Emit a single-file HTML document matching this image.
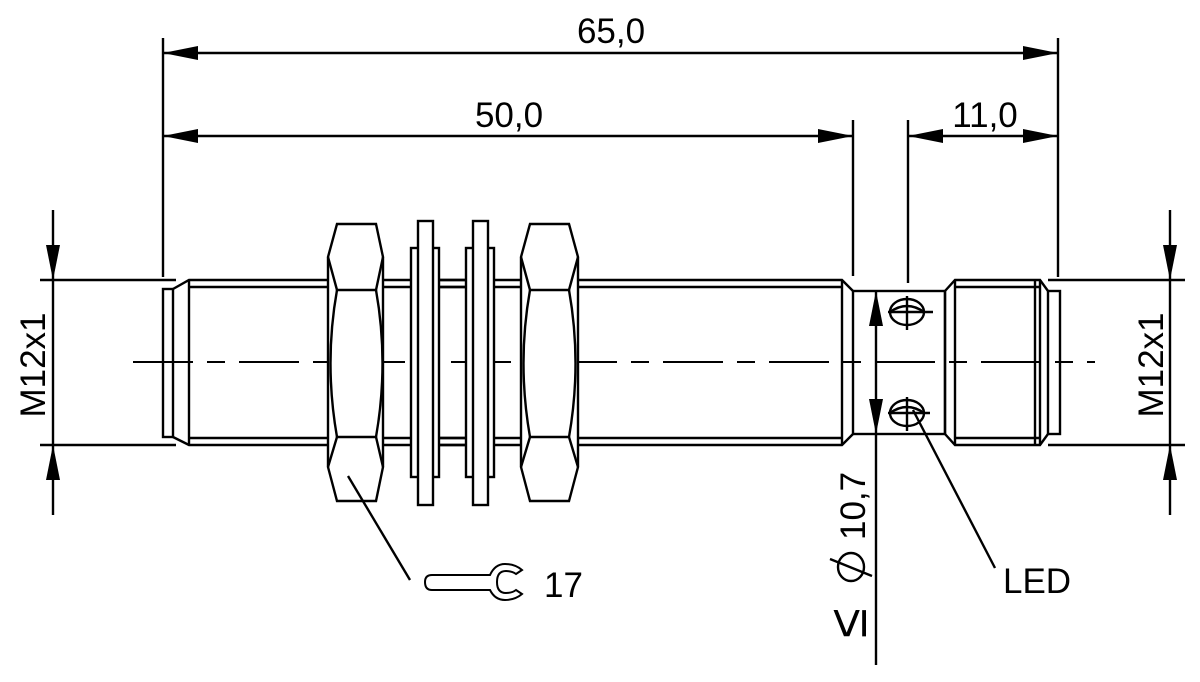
<!DOCTYPE html>
<html><head><meta charset="utf-8"><style>
html,body{margin:0;padding:0;background:#fff;}
svg{display:block;}
text{font-family:"Liberation Sans",Arial,sans-serif;fill:#000;}
</style></head><body>
<svg width="1200" height="682" viewBox="0 0 1200 682" xmlns="http://www.w3.org/2000/svg">
<g stroke="#000" stroke-width="2.4" fill="none" stroke-linejoin="miter">
<line x1="163" y1="38" x2="163" y2="277"/>
<line x1="1058" y1="38" x2="1058" y2="277"/>
<line x1="853" y1="120" x2="853" y2="276"/>
<line x1="908" y1="120" x2="908" y2="283"/>
<line x1="163" y1="53" x2="1058" y2="53"/>
<line x1="163" y1="136" x2="853" y2="136"/>
<line x1="908" y1="136" x2="1058" y2="136"/>
<line x1="40" y1="280" x2="176" y2="280"/>
<line x1="40" y1="445" x2="176" y2="445"/>
<line x1="53" y1="210" x2="53" y2="515"/>
<line x1="1048" y1="280" x2="1185" y2="280"/>
<line x1="1048" y1="445" x2="1185" y2="445"/>
<line x1="1170" y1="210" x2="1170" y2="515"/>
<line x1="133" y1="362" x2="1095" y2="362" stroke-width="2" stroke-dasharray="60 14 18 14"/>

<rect x="163" y="289" width="10" height="148"/>
<polyline points="173,289 189,280 328,280"/>
<polyline points="173,437 189,445 328,445"/>
<line x1="189" y1="287" x2="328" y2="287"/>
<line x1="189" y1="438" x2="328" y2="438"/>
<line x1="189" y1="280" x2="189" y2="445"/>
<line x1="383" y1="280" x2="521" y2="280"/>
<line x1="383" y1="287" x2="521" y2="287"/>
<line x1="383" y1="445" x2="521" y2="445"/>
<line x1="383" y1="438" x2="521" y2="438"/>
<polyline points="578,280 842,280 853,291"/>
<line x1="578" y1="287" x2="842" y2="287"/>
<polyline points="578,445 842,445 853,434"/>
<line x1="578" y1="438" x2="842" y2="438"/>
<line x1="842" y1="280" x2="842" y2="445"/>

<polygon points="337,224 376,224 383,257 383,467 376,501 337,501 328,467 328,257" fill="#fff"/>
<polyline points="328,257 337,290 376,290 383,257"/>
<polyline points="328,467 337,437 376,437 383,467"/>
<path d="M337,290 Q324,363 337,437"/>
<path d="M376,290 Q389,363 376,437"/>
<rect x="411" y="248" width="28" height="229" fill="#fff"/>
<rect x="418" y="221" width="15" height="284" fill="#fff"/>
<rect x="466" y="248" width="28" height="229" fill="#fff"/>
<rect x="473" y="221" width="15" height="284" fill="#fff"/>
<line x1="439" y1="280" x2="466" y2="280"/>
<line x1="439" y1="287" x2="466" y2="287"/>
<line x1="439" y1="445" x2="466" y2="445"/>
<line x1="439" y1="438" x2="466" y2="438"/>
<polygon points="530,224 569,224 578,257 578,467 569,501 530,501 521,467 521,257" fill="#fff"/>
<polyline points="521,257 530,290 569,290 578,257"/>
<polyline points="521,467 530,437 569,437 578,467"/>
<path d="M530,290 Q517,363 530,437"/>
<path d="M569,290 Q582,363 569,437"/>

<rect x="853" y="291" width="92" height="143"/>
<polyline points="945,291 955,280 1040,280 1048,291"/>
<polyline points="945,434 955,445 1040,445 1048,434"/>
<line x1="945" y1="291" x2="945" y2="434"/>
<line x1="955" y1="280" x2="955" y2="445"/>
<line x1="955" y1="287" x2="1040" y2="287"/>
<line x1="955" y1="438" x2="1040" y2="438"/>
<line x1="1035" y1="280" x2="1035" y2="445"/>
<line x1="1040" y1="280" x2="1040" y2="445"/>
<rect x="1048" y="291" width="12" height="143"/>

<ellipse cx="907" cy="312" rx="17" ry="13"/>
<path d="M890,312 Q907,300 924,312"/>
<line x1="888" y1="312" x2="933" y2="312"/>
<line x1="907" y1="296" x2="907" y2="330"/>
<ellipse cx="907" cy="413" rx="17" ry="13"/>
<path d="M890,413 Q907,401 924,413"/>
<line x1="888" y1="413" x2="930" y2="413"/>
<line x1="907" y1="397" x2="907" y2="431"/>

<line x1="876" y1="291" x2="876" y2="665"/>
<line x1="348" y1="476" x2="410" y2="580"/>
<line x1="913" y1="410" x2="995" y2="568"/>
<path d="M490,575 L432,575 Q425,575 425,582 Q425,590 432,590 L490,590 Q495,600 505,600 Q515,600 522,594 L516,590 Q512,593 506,593 Q497,593 497,582 Q497,571 506,571 Q512,571 516,574 L522,570 Q515,564 505,564 Q495,564 490,575 Z" stroke-width="2"/>
<ellipse cx="851" cy="567" rx="13" ry="14"/>
<line x1="830" y1="559" x2="872" y2="576"/>
</g>

<g fill="#000" stroke="none">
<polygon points="163,53 198,46 198,60"/>
<polygon points="1058,53 1023,46 1023,60"/>
<polygon points="163,136 198,129 198,143"/>
<polygon points="853,136 818,129 818,143"/>
<polygon points="908,136 943,129 943,143"/>
<polygon points="1058,136 1023,129 1023,143"/>
<polygon points="53,280 46,245 60,245"/>
<polygon points="53,445 46,480 60,480"/>
<polygon points="1170,280 1163,245 1177,245"/>
<polygon points="1170,445 1163,480 1177,480"/>
<polygon points="876,291 869,326 883,326"/>
<polygon points="876,434 869,399 883,399"/>
</g>

<text x="611" y="43" font-size="35" text-anchor="middle">65,0</text>
<text x="509" y="127" font-size="35" text-anchor="middle">50,0</text>
<text x="985" y="127" font-size="35" text-anchor="middle">11,0</text>
<text transform="translate(45,365) rotate(-90)" font-size="35" text-anchor="middle">M12x1</text>
<text transform="translate(1163,365) rotate(-90)" font-size="35" text-anchor="middle">M12x1</text>
<text x="544" y="597" font-size="35">17</text>
<text x="1003" y="593" font-size="35">LED</text>
<text transform="translate(865,540) rotate(-90)" font-size="35">10,7</text>
<text transform="translate(866,638) rotate(-90)" font-size="54">≤</text>
</svg>
</body></html>
